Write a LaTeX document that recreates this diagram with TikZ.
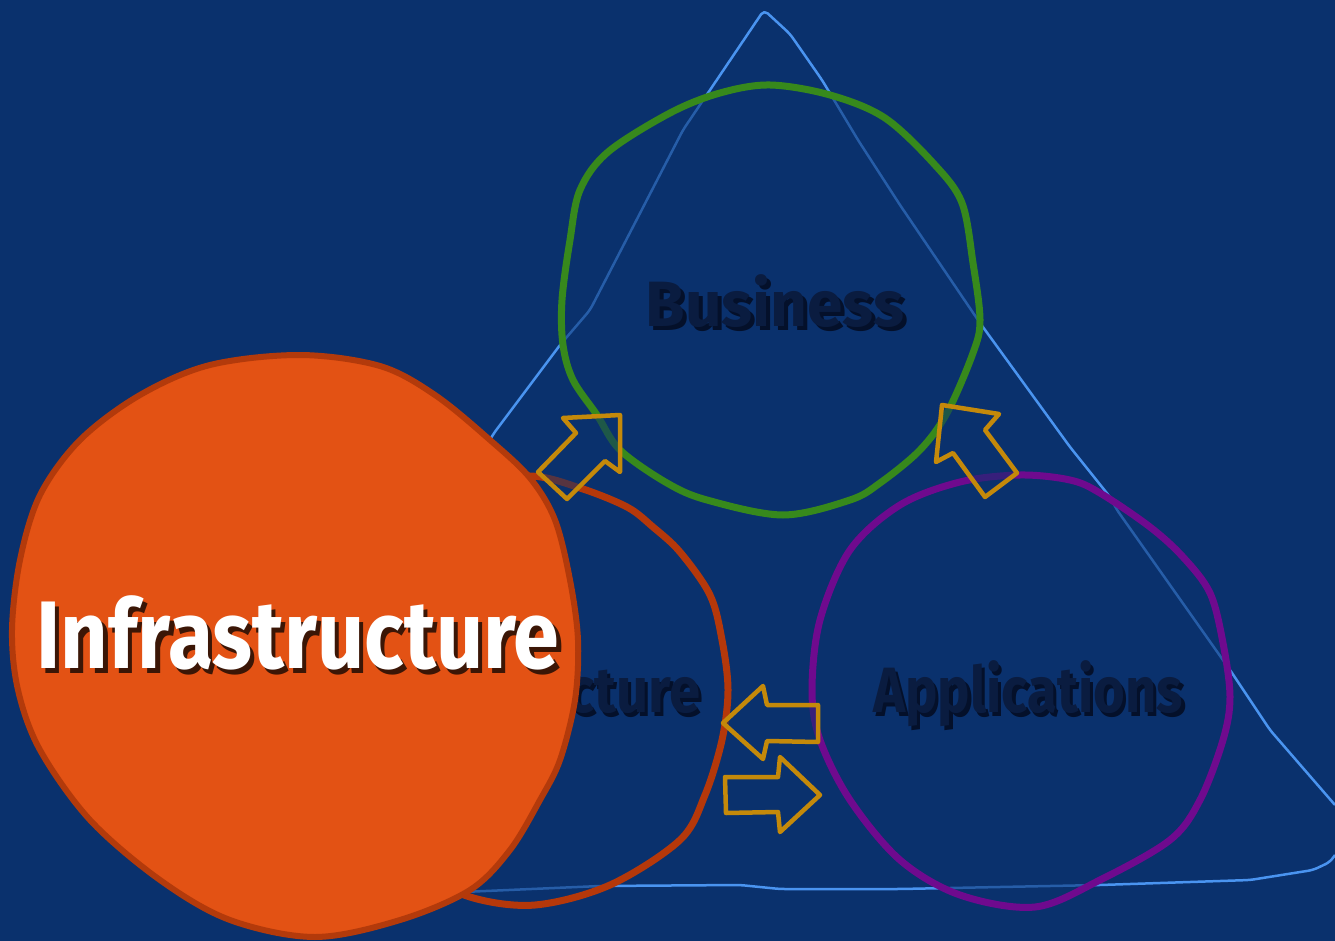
\documentclass[tikz,border=0pt]{standalone}
\usepackage{fontspec}
\setmainfont{Fira Sans}
\newfontfamily\hand{Fira Sans}
\definecolor{bg}{HTML}{0A316D}
\definecolor{tric}{HTML}{4A94F0}
\definecolor{greenc}{HTML}{37891C}
\definecolor{redc}{HTML}{B5380A}
\definecolor{purplec}{HTML}{6F0A8E}
\definecolor{orangefill}{HTML}{E35214}
\definecolor{orangeline}{HTML}{B33A0B}
\definecolor{arrowc}{HTML}{C4890A}
\definecolor{darktext}{HTML}{0A1C40}
\definecolor{darkshadow}{HTML}{04102A}
\definecolor{brownshadow}{HTML}{3B1606}
% text with a drop shadow, in one box
\newcommand{\shadowed}[4]{\rlap{\kern#3\raisebox{-#3}{\color{#2}#1}}{\color{#4}#1}}
\tikzset{
  triline/.style={draw=tric, line width=2.5pt, rounded corners=5pt, line join=round},
  ring/.style={line width=7pt, fill=bg, fill opacity=0.55, line join=round},
  blockarrow/.style={draw=arrowc, line width=4.5pt, fill=bg, fill opacity=0.55, line join=round},
  lbl/.style={inner sep=0pt, anchor=base},
}
\begin{document}
\begin{tikzpicture}[x=1pt,y=-1pt]
\fill[bg] (0,0) rectangle (1335,941);
\useasboundingbox (0,0) rectangle (1335,941);
% triangle
\draw[triline] (1335,805) -- (1270,730) -- (1230,670) -- (1117,510) -- (1110,497) -- (1070,447) -- (980,323) -- (900,205) -- (858,140) -- (822,80) -- (790,34) -- (764,10)
  -- (683,130) -- (590,310) -- (560,345) -- (494,433) -- (220,893)
  -- (440,893) -- (600,886) -- (740,885) -- (780,889) -- (900,889) -- (1100,885) -- (1250,880) -- (1313,870) -- (1330,862) -- (1335,855);
% rings
\draw[ring, draw=greenc] plot[smooth cycle, tension=0.55] coordinates {(770,85) (830,95) (885,118) (935,165) (962,203) (973,263) (980,320) (973,353) (947,413) (920,450) (880,483) (850,500) (783,515) (707,500) (667,483) (620,450) (597,415) (573,380) (563,345) (562,300) (570,240) (580,190) (608,152) (670,113) (720,93)};
\draw[ring, draw=redc] plot[smooth cycle, tension=0.55] coordinates {(530,476) (580,488) (627,507) (653,527) (680,552) (710,595) (722,640) (728,690) (722,740) (705,795) (680,840) (610,885) (535,905) (470,897) (420,870) (360,820) (320,760) (310,695) (320,630) (350,570) (400,515) (460,485)};
\draw[ring, draw=purplec] plot[smooth cycle, tension=0.55] coordinates {(1020,475) (1070,480) (1100,493) (1150,527) (1183,557) (1210,593) (1223,643) (1230,697) (1223,740) (1200,800) (1170,840) (1100,880) (1035,907) (960,895) (900,860) (850,800) (820,740) (812,690) (820,620) (850,550) (900,505) (960,482)};
% labels
\node[lbl, font=\hand\bfseries\fontsize{64}{64}\selectfont] (bus) at (775,326) {\shadowed{Business}{darkshadow}{4pt}{darktext}};
\node[lbl, font=\hand\bfseries\fontsize{64}{64}\selectfont] (app) at (1028,712) {\scalebox{0.85}[1]{\shadowed{Applications}{darkshadow}{4pt}{darktext}}};
\node[lbl, font=\hand\bfseries\fontsize{64}{64}\selectfont] (inf) at (522,712) {\scalebox{0.88}[1]{\shadowed{Infrastructure}{darkshadow}{4pt}{darktext}}};
% block arrows
\draw[blockarrow] (563,418) -- (620,415) -- (620,472) -- (605,461) -- (567,499) -- (538,472) -- (576,433) -- cycle;
\draw[blockarrow] (942,405) -- (999,414) -- (985,430) -- (1017,473) -- (985,497) -- (953,453) -- (936,462) -- cycle;
\draw[blockarrow] (723,723) -- (763,686) -- (767,705) -- (818,705) -- (818,742) -- (767,741) -- (763,759) -- cycle;
\draw[blockarrow] (725,777) -- (778,777) -- (780,757) -- (820,795) -- (780,832) -- (778,812) -- (726,813) -- cycle;
% magnified infrastructure
\draw[line width=6pt, draw=orangeline, fill=orangefill, line join=round] plot[smooth cycle, tension=0.55] coordinates {(300,355) (380,366) (435,395) (490,440) (530,478) (555,520) (570,580) (578,640) (575,700) (560,760) (540,800) (510,850) (470,890) (400,920) (315,937) (230,920) (160,880) (90,820) (40,750) (18,690) (12,630) (20,560) (40,495) (80,440) (140,395) (210,365)};
\node[lbl, font=\hand\bfseries\fontsize{96}{96}\selectfont] (big) at (298,668) {\scalebox{0.86}[1]{\shadowed{Infrastructure}{brownshadow}{5pt}{white}}};
\end{tikzpicture}
\end{document}
